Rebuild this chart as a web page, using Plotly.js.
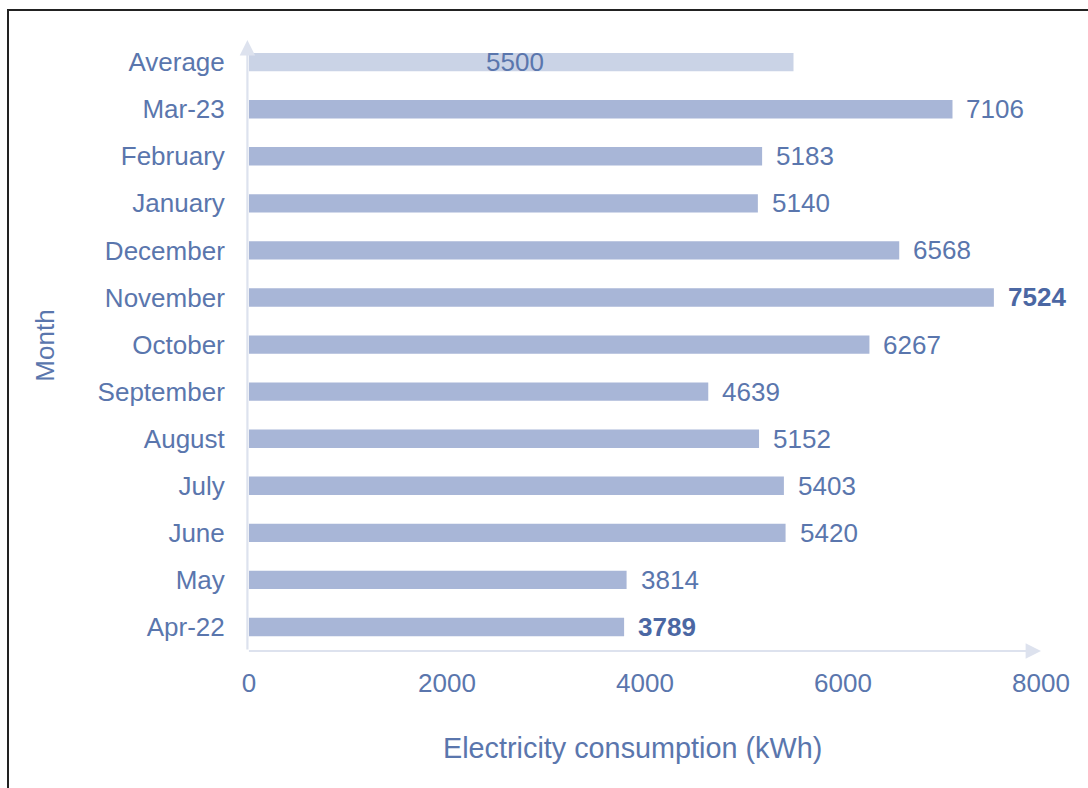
<!DOCTYPE html>
<html>
<head>
<meta charset="utf-8">
<script src="https://cdn.plot.ly/plotly-3.0.1.min.js"></script>
<style>
html,body{margin:0;padding:0;background:#fff;}
#wrap{position:relative;width:1088px;height:788px;overflow:hidden;}
#chart{position:absolute;left:0;top:0;width:1088px;height:788px;}
#frame{position:absolute;left:7px;top:9px;width:1100px;height:800px;border-left:2px solid #222;border-top:2px solid #222;pointer-events:none;}
</style>
</head>
<body>
<div id="wrap"><div id="chart"></div><div id="frame"></div></div>
<script>
const months = ["Apr-22","May","June","July","August","September","October","November","December","January","February","Mar-23","Average"];
const consumption = [3789,3814,5420,5403,5152,4639,6267,7524,6568,5140,5183,7106,5500];
const boldLabels = ["Apr-22","November"];
const xTicks = [0,2000,4000,6000,8000];
const xTitle = "Electricity consumption (kWh)";
const yTitle = "Month";

const textColor = "#5a76ad";
const FONT = "Liberation Sans, Arial, sans-serif";
const barColors = months.map(m => m === "Average" ? "#cad3e6" : "#a8b6d7");

const annotations = [];
months.forEach((m,i) => {
  const v = consumption[i];
  const isAvg = m === "Average";
  const bold = boldLabels.includes(m);
  annotations.push({
    x: isAvg ? v/2 : v, y: m, xref: "x", yref: "y",
    text: bold ? "<b>" + v + "</b>" : String(v),
    showarrow: false,
    xanchor: isAvg ? "center" : "left",
    xshift: isAvg ? -6 : 12,
    font: {family: FONT, size: 26, color: bold ? "#4b67a3" : textColor}
  });
});
// x-axis title (slightly left of plot centre, as in the reference)
annotations.push({xref:"paper", yref:"paper", x:0.4836, y:0, yshift:-97, xanchor:"center", yanchor:"middle",
  showarrow:false, text:xTitle, font:{family:FONT, size:28.8, color:textColor}});
// axis arrows
annotations.push({xref:"paper", yref:"paper", x:1.0, y:0, axref:"paper", ayref:"paper", ax:-0.002, ay:0,
  showarrow:true, arrowhead:2, arrowsize:1.4, arrowwidth:2.2, arrowcolor:"#dde2ee", text:""});
annotations.push({xref:"paper", yref:"paper", x:-0.002, y:1.0, axref:"paper", ayref:"paper", ax:-0.002, ay:0,
  showarrow:true, arrowhead:2, arrowsize:1.4, arrowwidth:2.2, arrowcolor:"#dde2ee", text:""});

const data = [{
  type: "bar",
  orientation: "h",
  x: consumption,
  y: months,
  width: 0.39,
  marker: {color: barColors},
  hoverinfo: "x+y"
}];

const layout = {
  width: 1088, height: 788,
  margin: {l: 249, r: 47, t: 40, b: 137},
  paper_bgcolor: "#fff", plot_bgcolor: "#fff",
  showlegend: false,
  font: {family: FONT, size: 26, color: textColor},
  xaxis: {
    range: [0, 8000],
    tickvals: xTicks,
    ticktext: xTicks.map(String),
    showgrid: false, zeroline: false, showline: false,
    ticks: "outside", ticklen: 9, tickcolor: "rgba(0,0,0,0)",
    tickfont: {size: 26, color: textColor}
  },
  yaxis: {
    type: "category",
    categoryorder: "array", categoryarray: months,
    range: [-0.51, 12.47],
    showgrid: false, zeroline: false, showline: false,
    ticks: "outside", ticklen: 18, tickcolor: "rgba(0,0,0,0)",
    tickfont: {size: 26, color: textColor},
    title: {text: yTitle, font: {size: 26, color: textColor}, standoff: 35}
  },
  annotations: annotations
};

Plotly.newPlot("chart", data, layout, {displayModeBar: false, staticPlot: true});
</script>
</body>
</html>
